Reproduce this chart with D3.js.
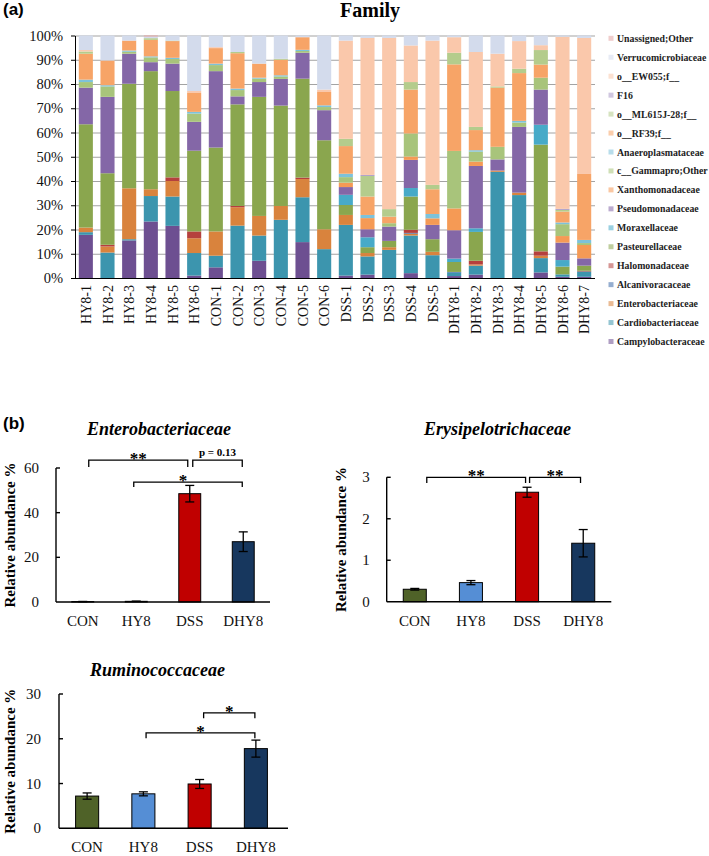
<!DOCTYPE html>
<html><head><meta charset="utf-8">
<script src="https://cdn.jsdelivr.net/npm/d3@7"></script>
<style>body{margin:0;background:#fff} svg{display:block}</style>
</head><body><svg id="c" width="709" height="856"></svg>
<script>
// ---------- (a) stacked composition ----------
const samples = ["HY8-1","HY8-2","HY8-3","HY8-4","HY8-5","HY8-6",
  "CON-1","CON-2","CON-3","CON-4","CON-5","CON-6",
  "DSS-1","DSS-2","DSS-3","DSS-4","DSS-5",
  "DHY8-1","DHY8-2","DHY8-3","DHY8-4","DHY8-5","DHY8-6","DHY8-7"];
// bottom -> top of the stack
const families = ["Campylobacteraceae","Cardiobacteriaceae","Enterobacteriaceae","Alcanivoracaceae",
  "Halomonadaceae","Pasteurellaceae","Moraxellaceae","Pseudomonadaceae","Xanthomonadaceae",
  "c__Gammapro;Other","Anaeroplasmataceae","o__RF39;f__","o__ML615J-28;f__","F16",
  "o__EW055;f__","Verrucomicrobiaceae","Unassigned;Other"];
const familyColors = ["#6D4F91","#3C95AE","#D9833D","#3F6CAA","#B5403D","#8AA64E","#47AAC8",
  "#8467A7","#F59A55","#A8C47B","#7DC2DA","#F7A467","#B4CC8C","#AA9AC7","#FAC8AB","#D3DBEC","#E4A4A2"];

const Campylobacteraceae  = [17.8,0,15.5,23.3,21.5,1.0, 4.4,0,7.1,0,14.8,0, 1.0,1.4,0,2.0,0, 0.8,1.4,0,0,2.3,0.5,0.5];
const Cardiobacteriaceae  = [1.1,10.5,0.5,10.5,12.1,9.3, 4.8,21.6,10.4,24.0,18.5,11.9, 20.9,7.5,11.6,15.5,9.4, 1.4,3.7,43.8,34.2,5.9,1.0,2.2];
const Enterobacteriaceae  = [1.9,2.5,21.0,2.8,6.4,6.1, 10.0,7.6,8.1,5.7,7.5,8.2, 4.1,1.4,1.1,0.8,1.4, 0,0.5,0.5,1.0,1.0,0,0];
const Alcanivoracaceae    = [0,0,0,0,0,0, 0,0,0,0,0,0, 0,0,0,0.3,0, 0.3,0,0,0,0,0,0];
const Halomonadaceae      = [0,0.7,0,0,1.5,2.8, 0,0.5,0,0,0.6,0, 0,0,0,1.3,0, 0,1.5,0,0,1.8,0,0.3];
const Pasteurellaceae     = [42.6,29.5,43.1,48.7,35.6,33.3, 34.6,41.9,49.1,41.4,40.8,36.7, 4.1,2.4,2.6,13.7,5.2, 4.1,11.9,0,0,44.0,3.2,2.1];
const Moraxellaceae       = [0,0,0,0,0,0, 0,0,0,0,0,0, 4.2,4.1,0,3.5,0, 1.4,1.5,0,0,8.2,2.7,0];
const Pseudomonadaceae    = [15.1,31.5,12.4,3.7,11.3,11.9, 31.5,3.3,6.1,11.0,10.7,12.4, 3.2,3.3,5.9,11.6,5.9, 11.7,25.7,4.6,27.1,14.5,7.2,3.0];
const Xanthomonadaceae    = [0,0,0,0,0,0, 0,0,0,0,0,0, 1.8,4.6,0,1.4,2.7, 9.0,1.8,0,0,0,2.7,5.5];
const Gammapro_Other      = [2.3,4.3,0.8,2.0,1.9,3.4, 2.5,2.6,1.4,1.0,0.7,1.3, 2.3,0,1.4,9.5,0, 23.7,4.1,5.2,1.8,4.9,4.9,0.8];
const Anaeroplasmataceae  = [1.0,0.5,0.5,0.4,0.5,0.7, 0.6,0.6,0.4,0.5,0.5,0.7, 1.4,1.3,0,0,1.8, 0,0.6,0,0.7,0,0.7,1.3];
const RF39                = [10.7,10.2,4.1,6.8,6.9,7.8, 6.4,14.6,5.8,6.4,5.2,5.5, 11.4,7.6,2.7,18.1,10.2, 35.7,8.3,24.4,19.7,5.4,4.5,27.2];
const ML615J_28           = [0.9,0,0,0.7,0.2,0, 0,0.5,0,0.4,0,0, 3.0,8.5,3.1,3.1,1.8, 4.8,1.3,0.5,1.8,6.0,0.7,0];
const F16                 = [0,0,0,0,0,0, 0,0,0,0,0,0, 0,0.4,0,0,0, 0,0,0,0,0,0.4,0];
const EW055               = [0.6,0,0,0,0,0.8, 0.4,0,0,0,0,1.0, 40.5,56.5,70.6,15.1,59.5, 6.4,30.9,13.5,11.4,2.0,71.0,56.1];
const Verrucomicrobiaceae = [6.0,10.3,2.1,0.7,2.1,22.9, 4.8,6.8,11.6,9.6,0.7,22.3, 2.1,1.0,1.0,4.1,2.1, 0.7,6.8,7.5,2.3,4.0,0.5,1.0];
const Unassigned_Other    = [0,0,0,0.4,0,0, 0,0,0,0,0,0, 0,0,0,0,0, 0,0,0,0,0,0,0];
const familyValues = [Campylobacteraceae,Cardiobacteriaceae,Enterobacteriaceae,Alcanivoracaceae,
  Halomonadaceae,Pasteurellaceae,Moraxellaceae,Pseudomonadaceae,Xanthomonadaceae,Gammapro_Other,
  Anaeroplasmataceae,RF39,ML615J_28,F16,EW055,Verrucomicrobiaceae,Unassigned_Other];
const stackTicks = [0,10,20,30,40,50,60,70,80,90,100];

// ---------- (b) group bar charts ----------
const groups = ["CON","HY8","DSS","DHY8"];
const groupColors = ["#4F6228","#558ED5","#C00000","#17375E"];
const enteroMean = [0.2,0.3,48.5,27.0];
const enteroErr  = [0.05,0.05,3.7,4.4];
const enteroTicks = [0,20,40,60];
const erysiMean = [0.30,0.46,2.64,1.41];
const erysiErr  = [0.02,0.05,0.12,0.33];
const erysiTicks = [0,1,2,3];
const rumiMean = [7.2,7.7,9.9,17.8];
const rumiErr  = [0.7,0.45,1.0,1.9];
const rumiTicks = [0,10,20,30];

const SERIF = "'Liberation Serif','Times New Roman',serif";
const SANS = "'Liberation Sans',Arial,sans-serif";
const svg = d3.select("#c");

// panel labels
svg.append("text").attr("x",3).attr("y",15).style("font-family",SANS).attr("font-weight","bold")
  .attr("font-size",17).text("(a)");
svg.append("text").attr("x",3).attr("y",429).style("font-family",SANS).attr("font-weight","bold")
  .attr("font-size",17).text("(b)");

// ---- stacked chart ----
(function(){
  const x = d3.scaleBand().domain(samples).range([75,595]).paddingInner(0.35).paddingOuter(0.175);
  const y = d3.scaleLinear().domain([0,100]).range([278,35.5]);
  const g = svg.append("g");
  g.append("text").attr("x",370).attr("y",17).attr("text-anchor","middle").style("font-family",SERIF)
    .attr("font-weight","bold").attr("font-size",20).text("Family");
  // grid
  g.append("g").selectAll("line").data(stackTicks.filter(d=>d>0)).join("line")
    .attr("x1",75).attr("x2",595).attr("y1",d=>y(d)+0.5).attr("y2",d=>y(d)+0.5)
    .attr("stroke","#A3A3A3").attr("stroke-width",1);
  const rows = samples.map((s,i)=>{const r={sample:s}; families.forEach((f,j)=>r[f]=familyValues[j][i]); return r;});
  const series = d3.stack().keys(families)(rows);
  g.append("g").selectAll("g").data(series).join("g").attr("fill",(d,i)=>familyColors[i])
    .selectAll("rect").data(d=>d).join("rect")
    .attr("x",d=>x(d.data.sample)).attr("width",x.bandwidth())
    .attr("y",d=>y(d[1])).attr("height",d=>Math.max(0,y(d[0])-y(d[1])));
  // y axis
  const ya = g.append("g").attr("transform","translate(75,0)")
    .call(d3.axisLeft(y).tickValues(stackTicks).tickFormat(d=>d+"%").tickSize(4).tickSizeOuter(0));
  ya.select(".domain").attr("stroke","#000");
  ya.selectAll(".tick line").attr("stroke","#000");
  ya.selectAll(".tick text").style("font-family",SERIF).attr("font-size",14.5).attr("fill","#111").attr("x",-12);
  // x axis
  g.append("line").attr("x1",75).attr("x2",595).attr("y1",278.5).attr("y2",278.5).attr("stroke","#000");
  g.append("g").selectAll("text").data(samples).join("text")
    .attr("transform",d=>`translate(${x(d)+x.bandwidth()/2+0.5},285) rotate(-90)`)
    .attr("text-anchor","end").attr("dominant-baseline","central")
    .style("font-family",SERIF).attr("font-size",14).attr("fill","#111").text(d=>d);
  // legend (top entry = last series)
  const leg = g.append("g");
  const order = families.map((f,i)=>i).reverse();
  order.forEach((fi,k)=>{
    const yy = 38.3 + k*18.95;
    leg.append("rect").attr("x",608.5).attr("y",yy-2.5).attr("width",5).attr("height",5)
      .attr("fill",d3.interpolateRgb(familyColors[fi],"#fff")(0.45));
    leg.append("text").attr("x",617).attr("y",yy).attr("dominant-baseline","central")
      .style("font-family",SERIF).attr("font-weight","bold").attr("font-size",9.8).attr("fill","#222")
      .text(families[fi]);
  });
})();

// ---- group panels ----
function panel(cfg){
  const g = svg.append("g");
  const x = d3.scaleBand().domain(groups).range([cfg.x0,cfg.x1]).paddingInner(0.59).paddingOuter(0.295);
  const y = d3.scaleLinear().domain([0,cfg.ticks[cfg.ticks.length-1]]).range([cfg.y0,cfg.yTop]);
  g.append("text").attr("x",cfg.titleX).attr("y",cfg.titleY).attr("text-anchor","middle")
    .style("font-family",SERIF).attr("font-weight","bold").attr("font-style","italic")
    .attr("font-size",18).text(cfg.title);
  // y label
  g.append("text").attr("transform",`translate(${cfg.labX},${(cfg.y0+cfg.yTop)/2}) rotate(-90)`)
    .attr("text-anchor","middle").attr("dominant-baseline","central")
    .style("font-family",SERIF).attr("font-weight","bold").attr("font-size",15).text("Relative abundance %");
  // bars
  g.append("g").selectAll("rect").data(groups).join("rect")
    .attr("x",d=>x(d)).attr("width",x.bandwidth())
    .attr("y",(d,i)=>y(cfg.mean[i])).attr("height",(d,i)=>y(0)-y(cfg.mean[i]))
    .attr("fill",(d,i)=>groupColors[i]).attr("stroke","#000").attr("stroke-width",1);
  // error bars
  const eb = g.append("g").attr("stroke","#000").attr("stroke-width",1.3);
  groups.forEach((d,i)=>{
    const cx = x(d)+x.bandwidth()/2, lo=y(cfg.mean[i]-cfg.err[i]), hi=y(cfg.mean[i]+cfg.err[i]);
    eb.append("line").attr("x1",cx).attr("x2",cx).attr("y1",lo).attr("y2",hi);
    eb.append("line").attr("x1",cx-4.5).attr("x2",cx+4.5).attr("y1",lo).attr("y2",lo);
    eb.append("line").attr("x1",cx-4.5).attr("x2",cx+4.5).attr("y1",hi).attr("y2",hi);
  });
  // axes
  const ax = g.append("g").attr("stroke","#000").attr("stroke-width",1.4);
  ax.append("line").attr("x1",cfg.x0).attr("x2",cfg.x0).attr("y1",y(0)).attr("y2",cfg.yTop);
  ax.append("line").attr("x1",cfg.x0).attr("x2",cfg.axisEnd).attr("y1",y(0)).attr("y2",y(0));
  cfg.ticks.forEach(t=>{
    if (t>0) ax.append("line").attr("x1",cfg.x0).attr("x2",cfg.x0+4).attr("y1",y(t)).attr("y2",y(t));
    g.append("text").attr("x",cfg.x0-cfg.tickGap).attr("y",y(t)).attr("text-anchor","end")
      .attr("dominant-baseline","central").style("font-family",SERIF).attr("font-size",15)
      .attr("fill","#111").text(t);
  });
  g.append("g").selectAll("text").data(groups).join("text")
    .attr("x",d=>x(d)+x.bandwidth()/2).attr("y",cfg.xLabY).attr("text-anchor","middle")
    .style("font-family",SERIF).attr("font-size",15).attr("fill","#111").text(d=>d);
  // brackets
  cfg.brackets.forEach(b=>{
    const xa = x(b.from)+x.bandwidth()/2+b.o1, xb = x(b.to)+x.bandwidth()/2+b.o2;
    const yl = y(b.level), yd = y(b.drop);
    g.append("path").attr("d",`M${xa},${yd}V${yl}H${xb}V${yd}`).attr("fill","none")
      .attr("stroke","#000").attr("stroke-width",1.3);
    g.append("text").attr("x",(xa+xb)/2+(b.lx||0)).attr("y",yl-(b.small?4:-4)).attr("text-anchor","middle")
      .style("font-family",SERIF).attr("font-weight","bold").attr("font-size",b.small?11:17)
      .text(b.label);
  });
}

panel({title:"Enterobacteriaceae",titleX:159,titleY:435,labX:10,x0:56,x1:270,axisEnd:270,
  y0:602,yTop:468,ticks:enteroTicks,mean:enteroMean,err:enteroErr,tickGap:17,xLabY:626,
  brackets:[
    {from:"CON",to:"DSS",o1:6,o2:-2,level:63.5,drop:60.4,label:"**"},
    {from:"DSS",to:"DHY8",o1:3,o2:-1,level:63.5,drop:60.4,label:"p = 0.13",small:true},
    {from:"HY8",to:"DHY8",o1:-2.5,o2:-1,level:53.7,drop:51.5,label:"*",lx:-5}
  ]});
panel({title:"Erysipelotrichaceae",titleX:497.6,titleY:435,labX:341,x0:386.7,x1:611.3,axisEnd:611.3,
  y0:601.7,yTop:477.3,ticks:erysiTicks,mean:erysiMean,err:erysiErr,tickGap:17,xLabY:626,
  brackets:[
    {from:"CON",to:"DSS",o1:12,o2:-1.5,level:3.0,drop:2.86,label:"**"},
    {from:"DSS",to:"DHY8",o1:2.5,o2:-2.7,level:3.0,drop:2.86,label:"**"}
  ]});
panel({title:"Ruminococcaceae",titleX:157.5,titleY:676,labX:10,x0:59,x1:284,axisEnd:288,
  y0:828.3,yTop:694,ticks:rumiTicks,mean:rumiMean,err:rumiErr,tickGap:18,xLabY:852,
  brackets:[
    {from:"DSS",to:"DHY8",o1:4,o2:-1,level:25.8,drop:24.6,label:"*"},
    {from:"HY8",to:"DHY8",o1:2.7,o2:-1,level:21.3,drop:20.1,label:"*"}
  ]});
</script></body></html>
